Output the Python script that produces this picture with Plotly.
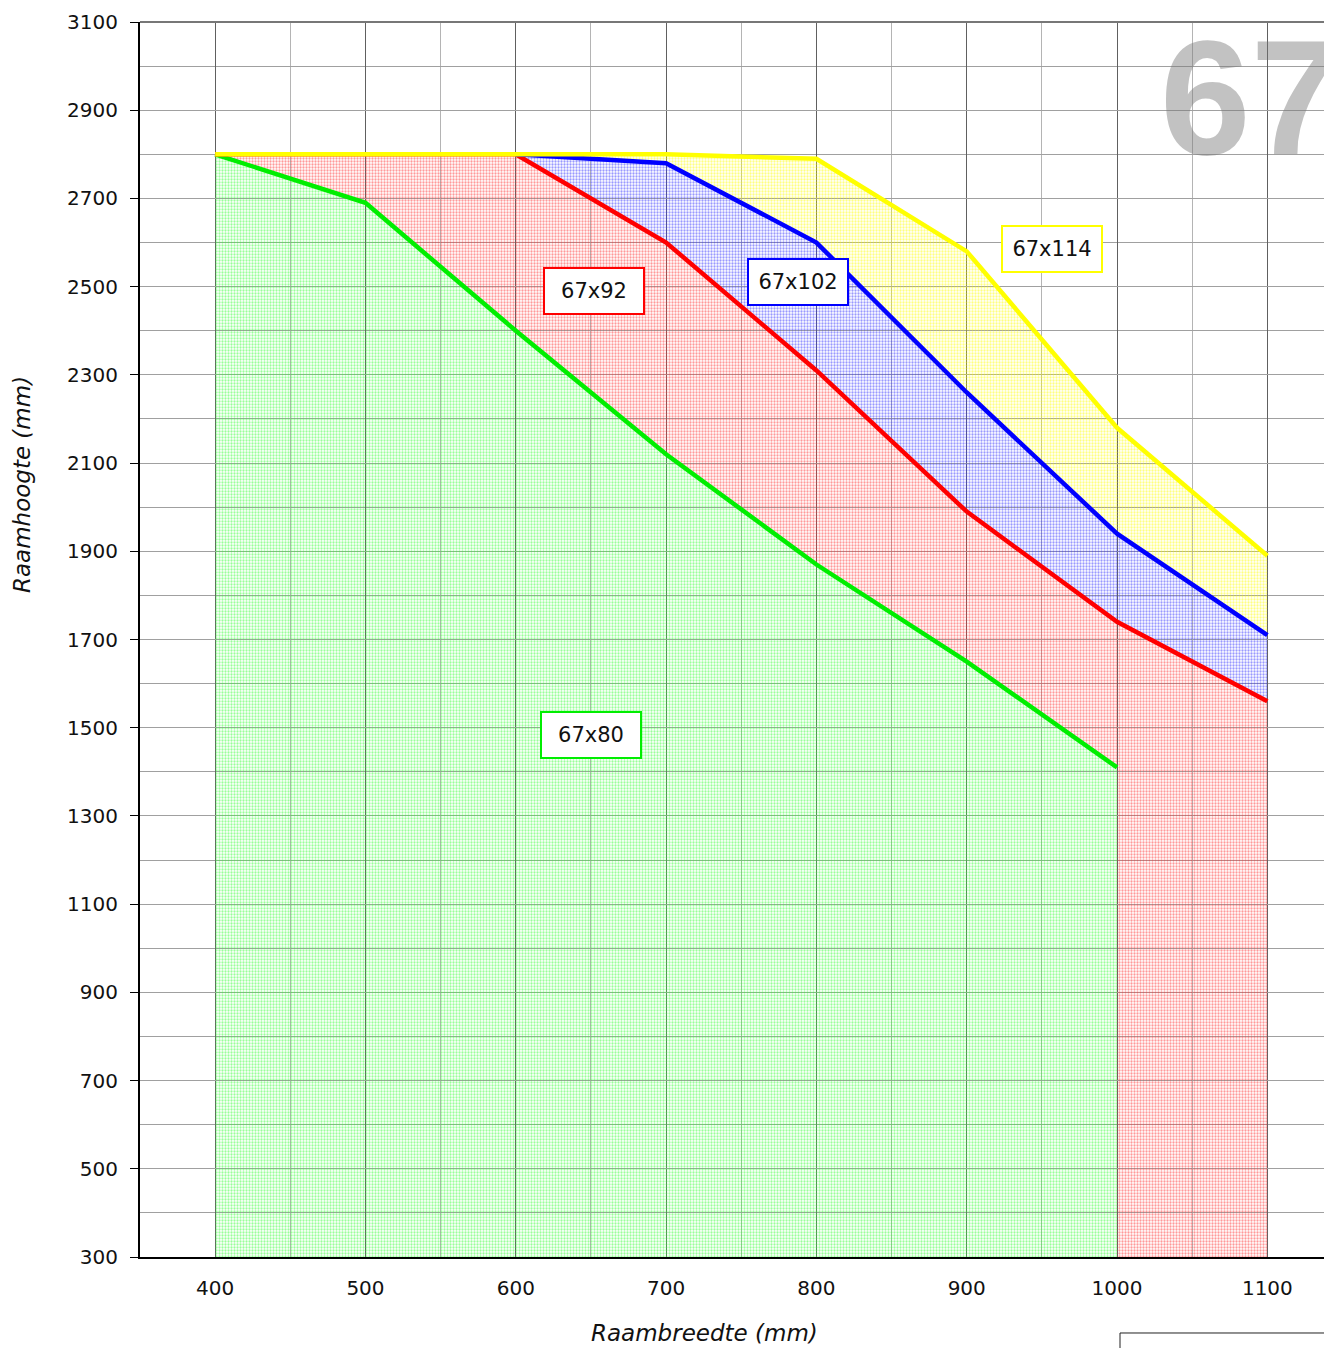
import plotly.graph_objects as go

# ---- data ----
x_green = [400, 500, 600, 700, 800, 900, 1000]
y_green = [2800, 2690, 2400, 2120, 1870, 1650, 1410]

x_red = [400, 600, 700, 800, 900, 1000, 1100]
y_red = [2800, 2800, 2600, 2310, 1990, 1740, 1560]

x_blue = [600, 700, 800, 900, 1000, 1100]
y_blue = [2800, 2780, 2600, 2260, 1940, 1710]

x_yellow = [400, 700, 800, 900, 1000, 1100]
y_yellow = [2800, 2800, 2790, 2580, 2180, 1890]

labels = ["67x80", "67x92", "67x102", "67x114"]
label_x = [650, 652, 788, 957]
label_y = [1483, 2490, 2510, 2585]

Y_MIN, Y_MAX = 300, 3100
X_MIN, X_MAX = 350, 1143

RED = "#ff0000"
BLUE = "#0000ff"
YELLOW = "#ffff00"
GREEN = "#00ee00"

fig = go.Figure()


def region(xs, ys, color):
    fig.add_trace(go.Scatter(
        x=xs, y=ys, mode="none", fill="toself", fillcolor="rgba(0,0,0,0)",
        fillpattern=dict(shape=".", fgcolor=color, bgcolor="rgba(255,255,255,0)",
                         size=3, solidity=0.45, fgopacity=0.5),
        hoverinfo="skip", showlegend=False))


# green region: under green line
gx = [x_green[0]] + x_green + [x_green[-1]]
gy = [Y_MIN] + y_green + [Y_MIN]
region(gx, gy, "#33ff33")

# red region: between red line and green line, plus full column 1000-1100
rx = x_red + [x_red[-1], x_green[-1]] + x_green[::-1]
ry = y_red + [Y_MIN, Y_MIN] + y_green[::-1]
region(rx, ry, "#ff3333")

# blue region: between blue line and red line
bx = x_blue + [x for x in x_red[::-1] if x >= x_blue[0]]
by = y_blue + [y for x, y in zip(x_red[::-1], y_red[::-1]) if x >= x_blue[0]]
region(bx, by, "#3333ff")

# yellow region: between yellow line and blue line
yx = x_yellow + x_blue[::-1]
yy = y_yellow + y_blue[::-1]
region(yx, yy, "#ffff00")

# lines
for xs, ys, c in [(x_green, y_green, GREEN), (x_red, y_red, RED),
                  (x_blue, y_blue, BLUE), (x_yellow, y_yellow, YELLOW)]:
    fig.add_trace(go.Scatter(x=xs, y=ys, mode="lines",
                             line=dict(color=c, width=4.5),
                             hoverinfo="skip", showlegend=False))

# label boxes
for t, lx, ly, c in zip(labels, label_x, label_y, [GREEN, RED, BLUE, YELLOW]):
    fig.add_annotation(x=lx, y=ly, text=t, showarrow=False,
                       font=dict(family="Verdana, DejaVu Sans", size=21, color="#111111"),
                       width=96, height=42, align="center", valign="middle",
                       bgcolor="white", bordercolor=c, borderwidth=2, borderpad=1)

# big "67" watermark
fig.add_annotation(xref="paper", yref="paper", x=(1158 - 140) / 1192, y=(1257 - 97) / 1235,
                   xanchor="left", yanchor="middle", text="<b>67</b>", showarrow=False,
                   font=dict(family="Liberation Sans, Arial", size=163,
                             color="rgba(120,120,120,0.45)"))

# axis titles
fig.add_annotation(xref="paper", yref="paper", x=(704 - 140) / 1192, y=(1257 - 1333) / 1235,
                   text="<i>Raambreedte (mm)</i>", showarrow=False, yanchor="middle",
                   font=dict(family="Verdana, DejaVu Sans", size=23, color="#111111"))
fig.add_annotation(xref="paper", yref="paper", x=(22 - 140) / 1192, y=(1257 - 485) / 1235,
                   text="<i>Raamhoogte (mm)</i>", showarrow=False, textangle=-90,
                   xanchor="center", yanchor="middle",
                   font=dict(family="Verdana, DejaVu Sans", size=23, color="#111111"))

# bottom-right artefact line
fig.add_shape(type="path", xref="paper", yref="paper",
              path="M %f,%f L %f,%f L %f,%f" % ((1120 - 140) / 1192, -0.08,
                                               (1120 - 140) / 1192, (1257 - 1333) / 1235,
                                               1.0, (1257 - 1333) / 1235),
              line=dict(color="#222222", width=1))

fig.update_layout(
    width=1324, height=1340,
    margin=dict(l=132, r=0, t=14, b=91),
    paper_bgcolor="white", plot_bgcolor="white",
    font=dict(family="Verdana, DejaVu Sans", size=20, color="#111111"),
    showlegend=False,
)
fig.update_xaxes(
    range=[X_MIN, X_MAX], tickmode="linear", tick0=400, dtick=100,
    showgrid=True, gridcolor="#606060", gridwidth=1,
    minor=dict(tick0=400, dtick=50, showgrid=True, gridcolor="#b4b4b4", gridwidth=1),
    showline=True, linecolor="#000000", linewidth=2, mirror=False,
    ticks="", ticklabelstandoff=12, zeroline=False,
    tickfont=dict(size=20),
)
fig.update_yaxes(
    range=[Y_MIN, Y_MAX], tickmode="linear", tick0=300, dtick=200,
    showgrid=True, gridcolor="#a0a0a0", gridwidth=1,
    minor=dict(tick0=300, dtick=100, showgrid=True, gridcolor="#a0a0a0", gridwidth=1),
    showline=True, linecolor="#000000", linewidth=2,
    ticks="outside", ticklen=8, tickcolor="#000000", ticklabelstandoff=8, zeroline=False,
    tickfont=dict(size=20),
)
# top border line
fig.add_shape(type="line", xref="paper", yref="paper", x0=0, x1=1, y0=1, y1=1,
              line=dict(color="#777777", width=2))

fig.write_html("out.html")
